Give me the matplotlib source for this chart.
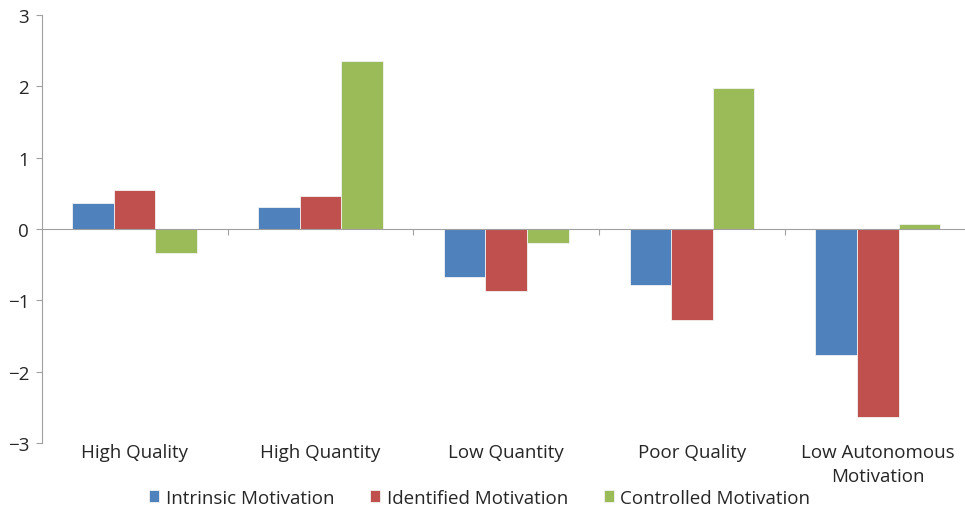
import matplotlib
matplotlib.use('Agg')
import matplotlib.pyplot as plt
import matplotlib.transforms as mtransforms
import numpy as np

plt.rcParams['font.family'] = ['Open Sans', 'DejaVu Sans']

categories = ['High Quality', 'High Quantity', 'Low Quantity', 'Poor Quality',
              'Low Autonomous\nMotivation']
intrinsic = [0.37, 0.31, -0.67, -0.79, -1.76]
identified = [0.54, 0.46, -0.87, -1.28, -2.63]
controlled = [-0.33, 2.36, -0.19, 1.98, 0.07]
series_names = ['Intrinsic Motivation', 'Identified Motivation', 'Controlled Motivation']
colors = ['#4F81BD', '#C0504D', '#9BBB59']

fig = plt.figure(figsize=(9.65, 5.10), dpi=100)
left = 41.7 / 965
ax = fig.add_axes([left, 66 / 510, 1 - left, 428 / 510])

x = np.arange(len(categories))
w = 0.224
for i, (vals, name, c) in enumerate(zip([intrinsic, identified, controlled], series_names, colors)):
    ax.bar(x + (i - 1) * w, vals, w, color=c, edgecolor='#f2f2f2', linewidth=0.6, label=name, zorder=2)

ax.set_ylim(-3, 3)
ax.set_xlim(-0.5, 4.469)
ax.set_yticks([-3, -2, -1, 0, 1, 2, 3])

for s in ['top', 'right']:
    ax.spines[s].set_visible(False)
ax.spines['bottom'].set_position(('data', 0))
ax.spines['bottom'].set_color('#a0a0a0')
ax.spines['left'].set_color('#a0a0a0')
ax.spines['bottom'].set_zorder(3)

ax.set_xticks(np.arange(0.5, 4.5, 1))
ax.set_xticklabels([])
ax.tick_params(axis='x', direction='out', length=4, color='#a0a0a0')
ax.tick_params(axis='y', direction='out', length=4, color='#a0a0a0', labelsize=13.5,
               labelcolor='#262626', pad=5)

trans = mtransforms.blended_transform_factory(ax.transData, ax.transAxes)
for xi, lab in zip(x, categories):
    ax.text(xi, 0.0, lab, transform=trans, ha='center', va='top', fontsize=13.5,
            color='#262626', linespacing=1.4)

fig.legend(loc='center', bbox_to_anchor=(0.497, 0.022), ncol=3, frameon=False,
           fontsize=13.5, handlelength=0.55, handleheight=0.55, handletextpad=0.35,
           columnspacing=1.9, labelcolor='#262626', borderpad=0.1)

fig.savefig('out.png', dpi=100)
